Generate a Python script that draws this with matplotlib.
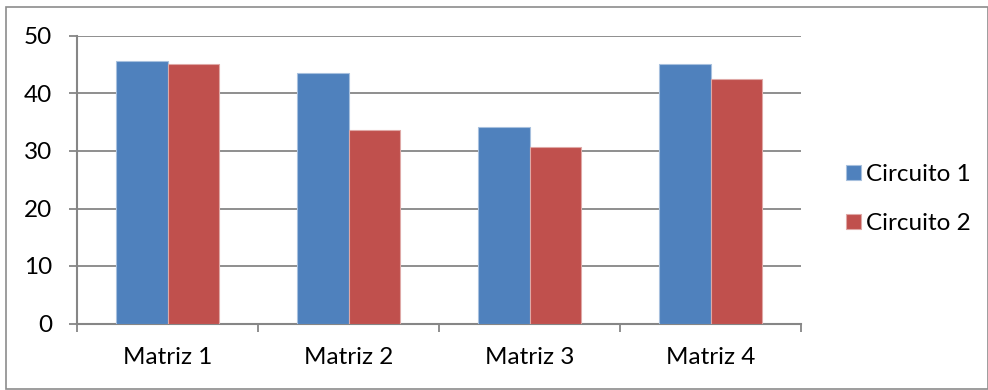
import numpy as np
import matplotlib
matplotlib.use("Agg")
import matplotlib.pyplot as plt
from matplotlib.patches import Rectangle

# Data
categories = ["Matriz 1", "Matriz 2", "Matriz 3", "Matriz 4"]
series_names = ["Circuito 1", "Circuito 2"]
circuito1 = [45.6, 43.6, 34.2, 45.2]
circuito2 = [45.2, 33.6, 30.7, 42.6]
y_ticks = [0, 10, 20, 30, 40, 50]

colors = ["#4F81BD", "#C0504D"]
edge_colors = ["#A7C0DE", "#DFA8A6"]
grid_color = "#868686"
fs = 17.5

plt.rcParams["font.family"] = ["Lato", "DejaVu Sans"]

W, H = 988, 390
fig = plt.figure(figsize=(W / 100, H / 100), dpi=100)
ax = fig.add_axes([77 / W, (H - 323.5) / H, (801 - 77) / W, (323.5 - 36) / H])

x = np.arange(len(categories))
bar_w = 0.283
for i, (vals, name) in enumerate(zip([circuito1, circuito2], series_names)):
    offset = (i - 0.5) * bar_w
    ax.bar(x + offset, vals, width=bar_w, color=colors[i], edgecolor=edge_colors[i],
           linewidth=0.8, label=name, zorder=3)

ax.set_xlim(-0.5, len(categories) - 0.5)
ax.set_ylim(0, 50)
ax.set_yticks(y_ticks)
ax.yaxis.grid(True, color=grid_color, linewidth=1.3, zorder=0)

# category boundary ticks, labels at the centres
ax.set_xticks(np.arange(len(categories) + 1) - 0.5)
ax.set_xticklabels([])
ax.set_xticks(x, minor=True)
ax.set_xticklabels(categories, minor=True)
ax.tick_params(axis="x", which="major", length=6, width=1.3, color=grid_color, direction="out")
ax.tick_params(axis="x", which="minor", length=0, pad=17, labelsize=fs)
ax.tick_params(axis="y", length=6, width=1.3, color=grid_color, direction="out", pad=12,
               labelsize=fs)

for side in ["top", "right"]:
    ax.spines[side].set_visible(False)
for side in ["left", "bottom"]:
    ax.spines[side].set_color(grid_color)
    ax.spines[side].set_linewidth(1.5)

fig.legend(loc="center left", bbox_to_anchor=(834 / W, (H - 199) / H), frameon=False,
           fontsize=fs, borderpad=0, handlelength=0.62, handleheight=0.62,
           handletextpad=0.18, labelspacing=1.15)

# chart area border
fig.patches.append(Rectangle((6 / W, 1 / H), (W - 6) / W, (H - 8) / H, transform=fig.transFigure,
                             fill=False, edgecolor="#8c8c8c", linewidth=1.2))

fig.savefig("out.png", dpi=100, facecolor="white")
